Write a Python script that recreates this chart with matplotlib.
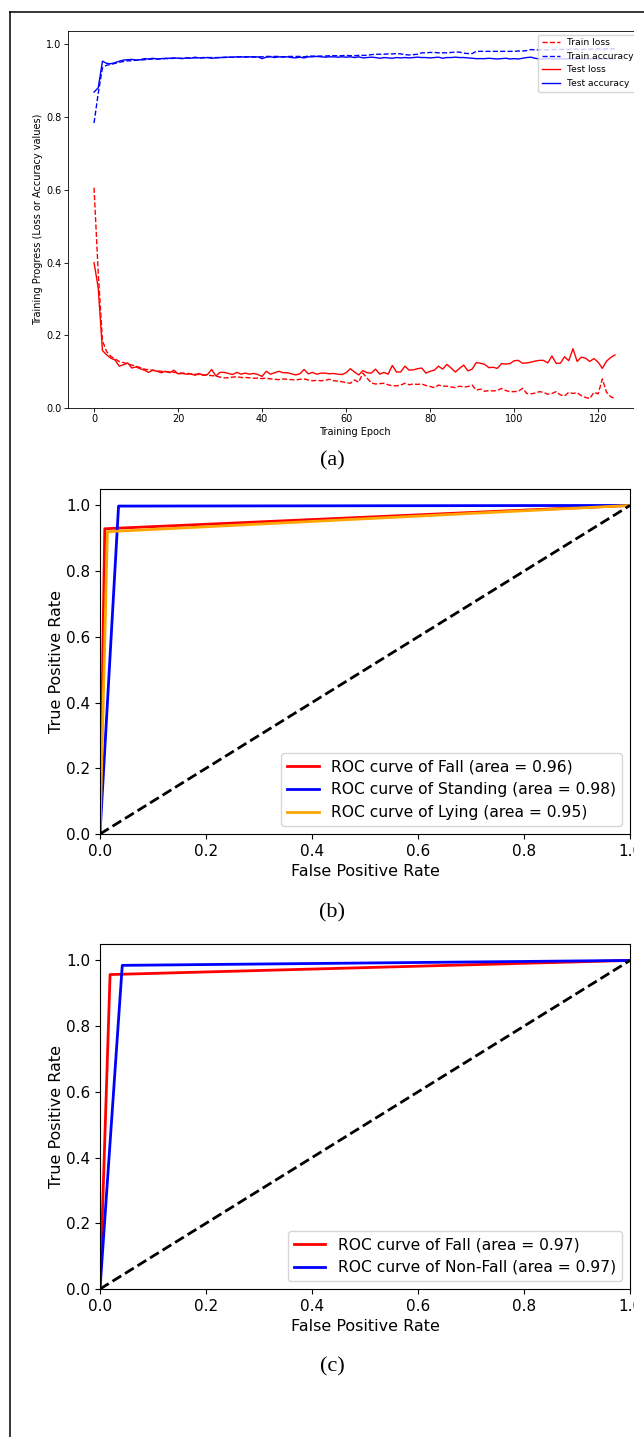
import matplotlib
matplotlib.use("Agg")
import matplotlib.pyplot as plt
from matplotlib.patches import Rectangle
from matplotlib.lines import Line2D

# ---- (a) training history, 125 epochs ----
epochs = list(range(125))

train_loss = [
    0.606, 0.370, 0.185, 0.155, 0.142, 0.135, 0.128, 0.125, 0.121, 0.118,
    0.115, 0.111, 0.107, 0.105, 0.104, 0.102, 0.101, 0.100, 0.099, 0.098,
    0.097, 0.096, 0.095, 0.094, 0.093, 0.092, 0.091, 0.090, 0.089, 0.088,
    0.085, 0.083, 0.083, 0.085, 0.086, 0.084, 0.084, 0.083, 0.082, 0.082,
    0.081, 0.082, 0.080, 0.079, 0.078, 0.080, 0.079, 0.078, 0.077, 0.079,
    0.080, 0.077, 0.075, 0.076, 0.075, 0.076, 0.079, 0.075, 0.074, 0.072,
    0.070, 0.068, 0.077, 0.071, 0.096, 0.082, 0.069, 0.066, 0.067, 0.068,
    0.064, 0.061, 0.061, 0.063, 0.068, 0.064, 0.066, 0.065, 0.066, 0.062,
    0.059, 0.056, 0.063, 0.060, 0.060, 0.058, 0.056, 0.060, 0.058, 0.059,
    0.063, 0.049, 0.052, 0.046, 0.048, 0.047, 0.048, 0.054, 0.048, 0.045,
    0.045, 0.046, 0.054, 0.040, 0.039, 0.041, 0.045, 0.043, 0.038, 0.040,
    0.045, 0.036, 0.033, 0.043, 0.040, 0.042, 0.034, 0.029, 0.026, 0.043,
    0.039, 0.080, 0.043, 0.031, 0.026,
]

test_loss = [
    0.400, 0.330, 0.158, 0.146, 0.137, 0.132, 0.115, 0.119, 0.124, 0.110,
    0.113, 0.108, 0.104, 0.098, 0.104, 0.101, 0.097, 0.101, 0.097, 0.104,
    0.094, 0.095, 0.093, 0.094, 0.090, 0.095, 0.090, 0.092, 0.106, 0.088,
    0.098, 0.098, 0.095, 0.092, 0.098, 0.093, 0.096, 0.093, 0.095, 0.092,
    0.087, 0.101, 0.093, 0.097, 0.101, 0.097, 0.097, 0.094, 0.091, 0.094,
    0.106, 0.094, 0.098, 0.093, 0.096, 0.096, 0.094, 0.095, 0.093, 0.092,
    0.097, 0.108, 0.099, 0.091, 0.103, 0.097, 0.096, 0.107, 0.093, 0.098,
    0.093, 0.117, 0.099, 0.099, 0.115, 0.104, 0.105, 0.108, 0.110, 0.096,
    0.101, 0.104, 0.115, 0.107, 0.120, 0.110, 0.099, 0.109, 0.118, 0.102,
    0.107, 0.125, 0.123, 0.120, 0.111, 0.112, 0.109, 0.122, 0.121, 0.122,
    0.130, 0.131, 0.123, 0.124, 0.126, 0.129, 0.131, 0.131, 0.124, 0.143,
    0.123, 0.123, 0.141, 0.130, 0.163, 0.128, 0.140, 0.137, 0.128, 0.136,
    0.126, 0.109, 0.129, 0.139, 0.146,
]

train_acc = [
    0.784, 0.866, 0.936, 0.943, 0.945, 0.948, 0.951, 0.953, 0.955, 0.955,
    0.957, 0.957, 0.958, 0.959, 0.960, 0.960, 0.960, 0.961, 0.961, 0.962,
    0.962, 0.962, 0.963, 0.963, 0.963, 0.963, 0.964, 0.964, 0.964, 0.964,
    0.964, 0.965, 0.965, 0.965, 0.965, 0.966, 0.966, 0.966, 0.966, 0.966,
    0.966, 0.967, 0.967, 0.967, 0.967, 0.966, 0.967, 0.967, 0.967, 0.967,
    0.966, 0.968, 0.968, 0.968, 0.968, 0.968, 0.969, 0.969, 0.969, 0.969,
    0.970, 0.969, 0.969, 0.970, 0.970, 0.970, 0.972, 0.973, 0.973, 0.973,
    0.974, 0.974, 0.975, 0.974, 0.972, 0.971, 0.972, 0.973, 0.977, 0.977,
    0.978, 0.978, 0.977, 0.977, 0.977, 0.978, 0.979, 0.979, 0.976, 0.975,
    0.975, 0.981, 0.981, 0.981, 0.981, 0.981, 0.981, 0.981, 0.981, 0.981,
    0.981, 0.982, 0.982, 0.983, 0.986, 0.985, 0.985, 0.985, 0.985, 0.986,
    0.986, 0.986, 0.987, 0.986, 0.987, 0.987, 0.986, 0.987, 0.987, 0.988,
    0.988, 0.987, 0.988, 0.988, 0.988,
]

test_acc = [
    0.869, 0.881, 0.954, 0.948, 0.947, 0.950, 0.954, 0.957, 0.958, 0.959,
    0.957, 0.958, 0.961, 0.960, 0.962, 0.960, 0.961, 0.962, 0.962, 0.963,
    0.962, 0.961, 0.963, 0.962, 0.965, 0.963, 0.963, 0.964, 0.962, 0.963,
    0.964, 0.964, 0.965, 0.965, 0.966, 0.966, 0.965, 0.966, 0.965, 0.966,
    0.961, 0.965, 0.966, 0.964, 0.966, 0.965, 0.966, 0.964, 0.963, 0.965,
    0.963, 0.966, 0.966, 0.967, 0.966, 0.965, 0.966, 0.966, 0.965, 0.966,
    0.965, 0.966, 0.964, 0.966, 0.963, 0.964, 0.965, 0.964, 0.962, 0.964,
    0.963, 0.962, 0.964, 0.963, 0.964, 0.963, 0.964, 0.965, 0.964, 0.964,
    0.963, 0.964, 0.965, 0.962, 0.964, 0.964, 0.965, 0.964, 0.964, 0.963,
    0.962, 0.961, 0.961, 0.961, 0.962, 0.961, 0.960, 0.961, 0.962, 0.960,
    0.961, 0.960, 0.962, 0.964, 0.965, 0.962, 0.960, 0.960, 0.961, 0.960,
    0.960, 0.961, 0.960, 0.961, 0.960, 0.961, 0.960, 0.961, 0.960, 0.961,
    0.960, 0.961, 0.960, 0.961, 0.960,
]

# ---- (b) 3-class ROC ----
classes_b = ["Fall", "Standing", "Lying"]
auc_b = [0.96, 0.98, 0.95]
fpr_b = [[0.0, 0.009, 1.0], [0.0, 0.035, 1.0], [0.0, 0.014, 1.0]]
tpr_b = [[0.0, 0.929, 1.0], [0.0, 0.998, 1.0], [0.0, 0.920, 1.0]]
colors_b = ["red", "blue", "orange"]

# ---- (c) 2-class ROC ----
classes_c = ["Fall", "Non-Fall"]
auc_c = [0.97, 0.97]
fpr_c = [[0.0, 0.019, 1.0], [0.0, 0.042, 1.0]]
tpr_c = [[0.0, 0.957, 1.0], [0.0, 0.985, 1.0]]
colors_c = ["red", "blue"]

W, H = 644, 1437
fig = plt.figure(figsize=(W / 100, H / 100), dpi=100)


def box(x0, y0, x1, y1):
    # pixel box (top-left origin) -> figure fraction rect
    return [x0 / W, 1 - y1 / H, (x1 - x0) / W, (y1 - y0) / H]


# panel (a)
ax = fig.add_axes(box(68, 31, 641, 408))
ax.plot(epochs, train_loss, "r--", lw=1.0, label="Train loss")
ax.plot(epochs, train_acc, "b--", lw=1.0, label="Train accuracy")
ax.plot(epochs, test_loss, "r-", lw=1.0, label="Test loss")
ax.plot(epochs, test_acc, "b-", lw=1.0, label="Test accuracy")
ax.set_xlim(-6.2, 130.2)
ax.set_ylim(0, 1.037)
ax.set_xlabel("Training Epoch", fontsize=7, labelpad=2)
ax.set_ylabel("Training Progress (Loss or Accuracy values)", fontsize=7, labelpad=2)
ax.tick_params(labelsize=7, length=2.6, width=0.6, pad=2)
for s in ax.spines.values():
    s.set_linewidth(0.6)
ax.legend(loc="upper right", fontsize=6.6, borderaxespad=0.4)


def roc_panel(rect, fprs, tprs, names, aucs, colors):
    a = fig.add_axes(rect)
    for f, t, n, au, c in zip(fprs, tprs, names, aucs, colors):
        a.plot(f, t, color=c, lw=2,
               label="ROC curve of {0} (area = {1:0.2f})".format(n, au))
    a.plot([0, 1], [0, 1], "k--", lw=2)
    a.set_xlim(0.0, 1.0)
    a.set_ylim(0.0, 1.05)
    a.set_xlabel("False Positive Rate", fontsize=11.5)
    a.set_ylabel("True Positive Rate", fontsize=11.5, labelpad=1.5)
    a.tick_params(labelsize=11)
    a.legend(loc="lower right", fontsize=11.2)
    return a


roc_panel(box(100, 489, 630, 834), fpr_b, tpr_b, classes_b, auc_b, colors_b)
roc_panel(box(100, 944, 630, 1289), fpr_c, tpr_c, classes_c, auc_c, colors_c)

# sub-captions
for lab, yy in [("(a)", 461), ("(b)", 913), ("(c)", 1367)]:
    fig.text(332 / W, 1 - yy / H, lab, ha="center", va="center",
             family="Liberation Serif", fontsize=16)

# the panels are cropped at the right
fig.add_artist(Rectangle((634 / W, 0), 1, 1 - 14 / H, transform=fig.transFigure,
                         facecolor="white", edgecolor="none", zorder=20))

# outer frame (left and top edges visible)
fig.add_artist(Line2D([10 / W, 10 / W], [0, 1 - 12 / H], transform=fig.transFigure,
                      color="black", lw=1.1, zorder=21))
fig.add_artist(Line2D([10 / W, 1], [1 - 12 / H, 1 - 12 / H], transform=fig.transFigure,
                      color="black", lw=1.1, zorder=21))

fig.savefig("out.png", dpi=100)
